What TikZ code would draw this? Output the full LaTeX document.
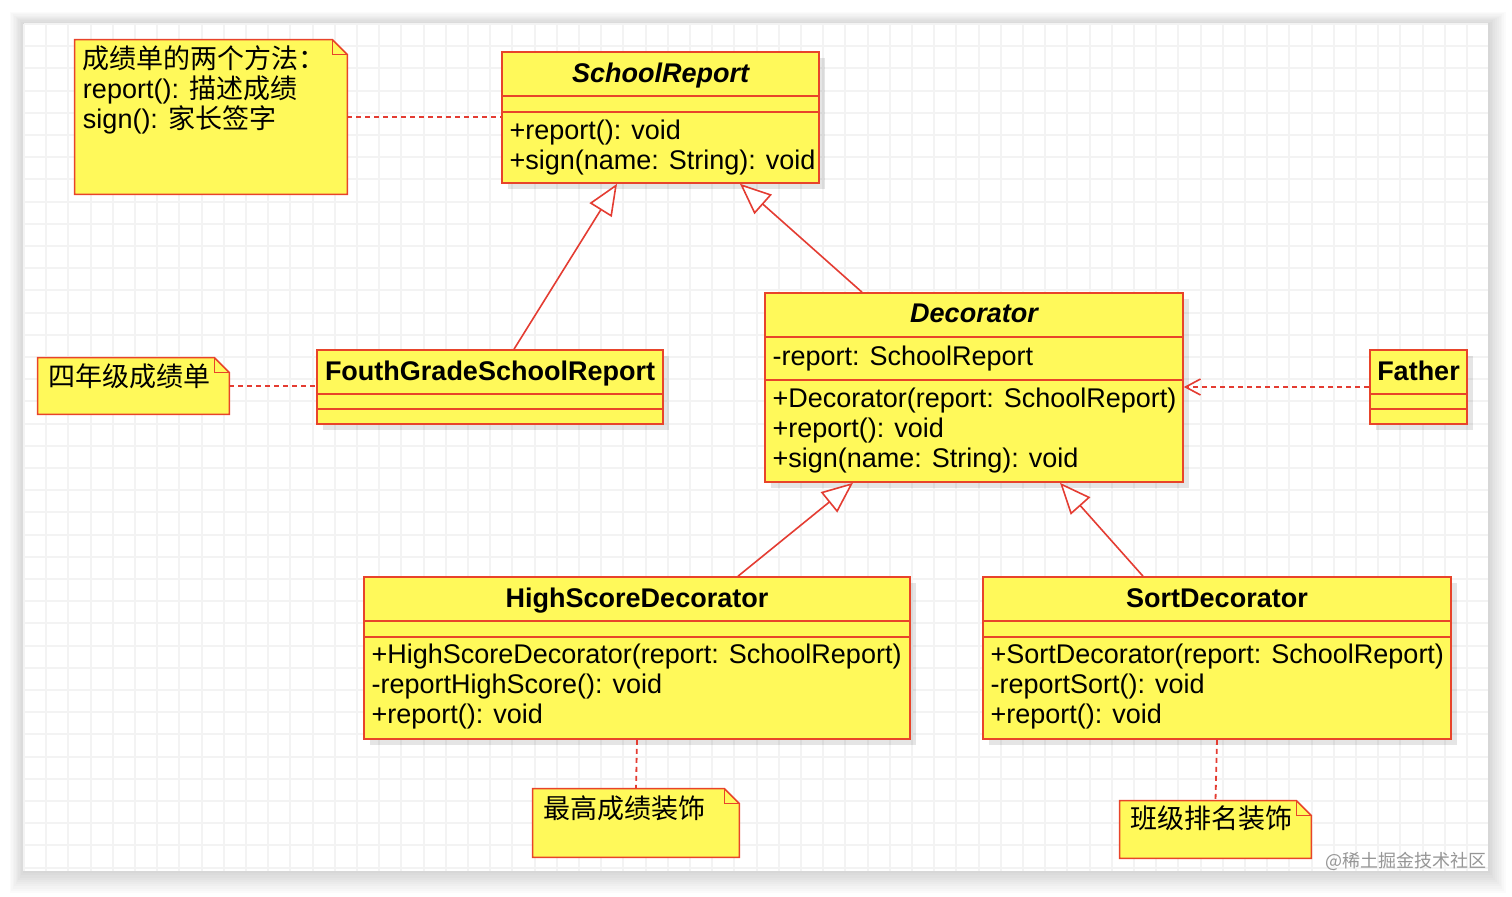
\documentclass[tikz,border=0pt]{standalone}
\usepackage{fontspec}
\setmainfont{Liberation Sans}
\newfontfamily\cjk{Noto Sans CJK SC}
\usetikzlibrary{arrows.meta,positioning,calc,fit,shadows}
\definecolor{cFill}{RGB}{255,249,90}
\definecolor{cEdge}{RGB}{232,68,42}
\definecolor{cLink}{RGB}{228,60,50}
\definecolor{cGrid}{RGB}{243,243,243}
\definecolor{cMark}{RGB}{150,150,150}
\newcommand{\umlfont}{\fontsize{13.5}{15}\selectfont\lineskiplimit=-20pt\relax}
\newcommand{\topline}{\rule{0pt}{13pt}}
% note with a folded corner, drawn round a (fit) node
\newcommand{\umlnote}[1]{%
  \draw[notepath] (#1.north west) -- ([xshift=-7.5pt]#1.north east) -- ([yshift=-7.5pt]#1.north east)
    -- (#1.south east) -- (#1.south west) -- cycle;
  \draw[notepath,fill=none] ([xshift=-7.5pt]#1.north east) |- ([yshift=-7.5pt]#1.north east);}

\begin{document}
\begin{tikzpicture}[x=0.5pt,y=-0.5pt,font=\umlfont,
  cls/.style={draw=cEdge,fill=cFill,line width=0.8pt,inner sep=0pt,
    drop shadow={shadow xshift=3pt,shadow yshift=-3pt,fill=black,opacity=0.1}},
  notebox/.style={inner sep=0pt},
  notepath/.style={draw=cEdge,fill=cFill,line width=0.8pt},
  compline/.style={draw=cEdge,line width=0.8pt},
  clstitle/.style={anchor=base,inner sep=0pt,font=\umlfont\bfseries},
  clsbody/.style={anchor=north west,align=left,inner sep=0pt},
  gridline/.style={draw=cGrid,line width=1pt},
  inherit/.style={draw=cLink,line width=0.8pt,-{Triangle[length=15.5pt,width=13pt,fill=white]}},
  depend/.style={draw=cLink,line width=0.8pt,dash pattern=on 2.5pt off 2pt,-{Straight Barb[length=7.5pt,width=8pt]}},
  anchorline/.style={draw=cLink,line width=0.9pt,dash pattern=on 2.5pt off 2pt}]
  % page, frame and grid
  \useasboundingbox (0,0) rectangle (1512,896);
  \fill[white] (0,0) rectangle (1512,896);
  \foreach \i in {1,...,10}
    \fill[black,opacity=0.016] (24-1.4*\i,24-1.2*\i) rectangle (1488+1.8*\i,871+2.2*\i);
  \fill[white] (24,24) rectangle (1488,871);
  \foreach \gx in {24,46.2,...,1488} \draw[gridline] (\gx,24) -- (\gx,871);
  \foreach \gy in {24,46.2,...,871} \draw[gridline] (24,\gy) -- (1488,\gy);

  % SchoolReport
  \node[cls,fit={(502,52) (819,183)}] (sr) {};
  \draw[compline] ($(sr.north west)+(0,45)$) -- ($(sr.north east)+(0,45)$);
  \draw[compline] ($(sr.north west)+(0,61)$) -- ($(sr.north east)+(0,61)$);
  \node[clstitle,font=\umlfont\bfseries\itshape] (sr-t) at ($(sr.north)+(0,31)$) {SchoolReport};
  \node[clsbody] (sr-m) at ($(sr.north west)+(8,62)$) {\topline+report(): void\\+sign(name: String): void};

  % FouthGradeSchoolReport
  \node[cls,fit={(317,350) (663,424)}] (fg) {};
  \draw[compline] ($(fg.north west)+(0,45)$) -- ($(fg.north east)+(0,45)$);
  \draw[compline] ($(fg.north west)+(0,60)$) -- ($(fg.north east)+(0,60)$);
  \node[clstitle] (fg-t) at ($(fg.north)+(0,31)$) {FouthGradeSchoolReport};

  % Decorator
  \node[cls,fit={(765,293) (1183,482)}] (dec) {};
  \draw[compline] ($(dec.north west)+(0,45)$) -- ($(dec.north east)+(0,45)$);
  \draw[compline] ($(dec.north west)+(0,88)$) -- ($(dec.north east)+(0,88)$);
  \node[clstitle,font=\umlfont\bfseries\itshape] (dec-t) at ($(dec.north)+(0,30)$) {Decorator};
  \node[clsbody] (dec-a) at ($(dec.north west)+(8,47)$) {\topline-report: SchoolReport};
  \node[clsbody] (dec-m) at ($(dec.north west)+(8,89)$)
       {\topline+Decorator(report: SchoolReport)\\+report(): void\\+sign(name: String): void};

  % Father
  \node[cls,fit={(1370,350) (1467,424)}] (fa) {};
  \draw[compline] ($(fa.north west)+(0,45)$) -- ($(fa.north east)+(0,45)$);
  \draw[compline] ($(fa.north west)+(0,60)$) -- ($(fa.north east)+(0,60)$);
  \node[clstitle] (fa-t) at ($(fa.north)+(0,31)$) {Father};

  % HighScoreDecorator
  \node[cls,fit={(364,577) (910,739)}] (hs) {};
  \draw[compline] ($(hs.north west)+(0,45)$) -- ($(hs.north east)+(0,45)$);
  \draw[compline] ($(hs.north west)+(0,61)$) -- ($(hs.north east)+(0,61)$);
  \node[clstitle] (hs-t) at ($(hs.north)+(0,31)$) {HighScoreDecorator};
  \node[clsbody] (hs-m) at ($(hs.north west)+(8,61)$)
       {\topline+HighScoreDecorator(report: SchoolReport)\\-reportHighScore(): void\\+report(): void};

  % SortDecorator
  \node[cls,fit={(983,577) (1451,739)}] (sd) {};
  \draw[compline] ($(sd.north west)+(0,45)$) -- ($(sd.north east)+(0,45)$);
  \draw[compline] ($(sd.north west)+(0,61)$) -- ($(sd.north east)+(0,61)$);
  \node[clstitle] (sd-t) at ($(sd.north)+(0,31)$) {SortDecorator};
  \node[clsbody] (sd-m) at ($(sd.north west)+(8,61)$)
       {\topline+SortDecorator(report: SchoolReport)\\-reportSort(): void\\+report(): void};

  % notes
  \node[notebox,fit={(75,40) (347,194)}] (n1) {};
  \umlnote{n1}
  \node[clsbody] (n1-t) at ($(n1.north west)+(8,2)$)
       {\topline{\cjk 成绩单的两个方法：}\\report(): {\cjk 描述成绩}\\sign(): {\cjk 家长签字}};
  \node[notebox,fit={(38,358) (229,414)}] (n2) {};
  \umlnote{n2}
  \node[clsbody] (n2-t) at ($(n2.north west)+(10,2)$) {\topline{\cjk 四年级成绩单}};
  \node[notebox,fit={(533,789) (739,857)}] (n3) {};
  \umlnote{n3}
  \node[clsbody] (n3-t) at ($(n3.north west)+(10,3)$) {\topline{\cjk 最高成绩装饰}};
  \node[notebox,fit={(1120,801) (1311,858)}] (n4) {};
  \umlnote{n4}
  \node[clsbody] (n4-t) at ($(n4.north west)+(10,1)$) {\topline{\cjk 班级排名装饰}};

  % relations
  \draw[anchorline] (n1.east) -- (n1.east -| sr.west);
  \draw[anchorline] (n2.east) -- (n2.east -| fg.west);
  \draw[inherit] ([xshift=12pt]fg.north) -- ([xshift=-21.75pt]sr.south);
  \draw[inherit] ([xshift=-56pt]dec.north) -- ([xshift=39.75pt]sr.south);
  \draw[depend] (fa.west) -- (fa.west -| dec.east);
  \draw[inherit] ([xshift=50.5pt]hs.north) -- ([xshift=-60.5pt]dec.south);
  \draw[inherit] ([xshift=-37pt]sd.north) -- ([xshift=43pt]dec.south);
  \draw[anchorline] (hs.south) -- (n3.north);
  \draw[anchorline] (sd.south) -- (n4.north);

  % watermark
  \node[anchor=base east,inner sep=0pt,font=\cjk\fontsize{9}{11}\selectfont,text=cMark] (mark) at (1487,867) {@稀土掘金技术社区};
\end{tikzpicture}
\end{document}
